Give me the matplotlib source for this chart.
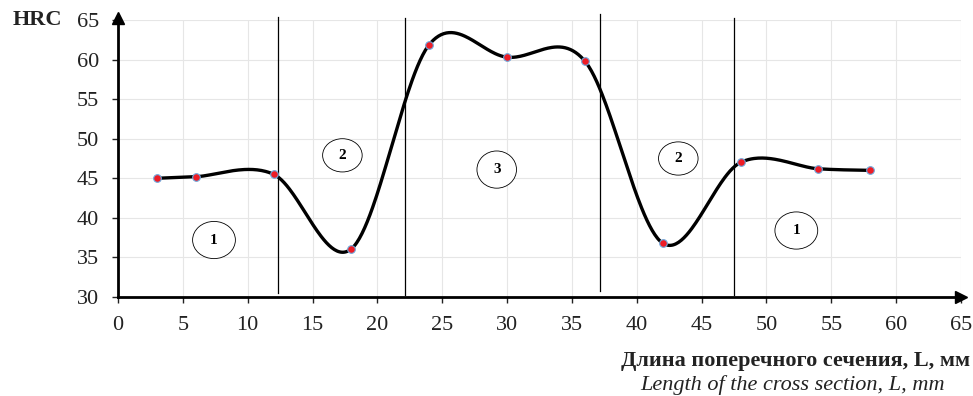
import numpy as np
import matplotlib
matplotlib.use("Agg")
import matplotlib.pyplot as plt
from matplotlib.patches import Ellipse

# data
L_mm = [3, 6, 12, 18, 24, 30, 36, 42, 48, 54, 58]
hrc = [45.0, 45.2, 45.5, 36.1, 61.9, 60.3, 59.8, 36.8, 47.0, 46.2, 46.0]
zone_bounds = [12.35, 22.1, 37.2, 47.5]
zone_labels = ["1", "2", "3", "2", "1"]
zone_label_x = [7.4, 17.3, 29.2, 43.2, 52.3]
zone_label_y = [37.2, 47.9, 46.1, 47.5, 38.4]
x_ticks = list(range(0, 66, 5))
y_ticks = list(range(30, 66, 5))

plt.rcParams['font.family'] = ['Liberation Serif', 'DejaVu Serif']

def excel_smooth(xs, ys, n=60):
    P = np.column_stack([xs, ys]).astype(float)
    out = []
    m = len(P)
    for i in range(m - 1):
        p0 = P[i - 1] if i > 0 else P[i]
        p1 = P[i]
        p2 = P[i + 1]
        p3 = P[i + 2] if i + 2 < m else P[i + 1]
        c1 = p1 + (p2 - p0) / 6.0
        c2 = p2 - (p3 - p1) / 6.0
        t = np.linspace(0, 1, n)[:, None]
        seg = ((1 - t) ** 3) * p1 + 3 * ((1 - t) ** 2) * t * c1 + 3 * (1 - t) * t ** 2 * c2 + t ** 3 * p2
        out.append(seg if i == 0 else seg[1:])
    s = np.vstack(out)
    return s[:, 0], s[:, 1]

fig = plt.figure(figsize=(9.73, 3.96), dpi=100)
ax = fig.add_axes([0.1213, 0.25, 0.8664, 0.6995])
ax.set_xlim(0, 65)
ax.set_ylim(30, 65)
ax.set_xticks(x_ticks)
ax.set_yticks(y_ticks)
ax.grid(True, color='#e6e6e6', linewidth=0.8)
ax.set_axisbelow(True)
for s in ['top', 'right']:
    ax.spines[s].set_visible(False)
ax.spines['left'].set_linewidth(2)
ax.spines['bottom'].set_linewidth(2)
ax.tick_params(axis='x', length=4.5, width=1, direction='out', pad=9.5, labelsize=16, colors='#222222')
ax.tick_params(axis='y', length=4.5, width=1, direction='out', pad=9, labelsize=16, colors='#222222')

# arrows
ax.plot([0], [65.3], marker='^', color='black', markersize=8, clip_on=False)
ax.plot([65], [30], marker='>', color='black', markersize=8, clip_on=False)

# zone boundaries
tops = [65.4, 65.3, 65.8, 65.3]
bots = [30.5, 30.3, 30.8, 30.3]
for xb, t, b in zip(zone_bounds, tops, bots):
    ax.plot([xb, xb], [b, t], color='black', linewidth=0.9, clip_on=False)

# curve
sx, sy = excel_smooth(L_mm, hrc)
ax.plot(sx, sy, color='black', linewidth=2.4, solid_capstyle='round', zorder=3)
ax.plot(L_mm, hrc, linestyle='none', marker='o', markersize=5.5,
        markerfacecolor='#ee1c25', markeredgecolor='#6fa8dc', markeredgewidth=0.8, zorder=4)

# zone labels
for lab, xx, yy in zip(zone_labels, zone_label_x, zone_label_y):
    w = 3.3 if lab == "1" else 3.05
    h = 4.7 if lab != "2" else 4.2
    ax.add_patch(Ellipse((xx, yy), w, h, facecolor='white', edgecolor='black', linewidth=0.6, zorder=5))
    ax.text(xx, yy, lab, ha='center', va='center', fontsize=11, fontweight='bold', zorder=6)

fig.text(13 / 973, 1 - 20 / 396, "HRC", ha='left', va='center', fontsize=16, fontweight='bold',
         color='#222222')
fig.text(970 / 973, 1 - 361 / 396, "Длина поперечного сечения, L, мм", ha='right', va='center',
         fontsize=16, fontweight='bold', color='#222222')
fig.text(793 / 973, 1 - 385 / 396, "Length of the cross section, L, mm", ha='center', va='center',
         fontsize=16, style='italic', color='#222222')

fig.savefig("out.png", dpi=100)
